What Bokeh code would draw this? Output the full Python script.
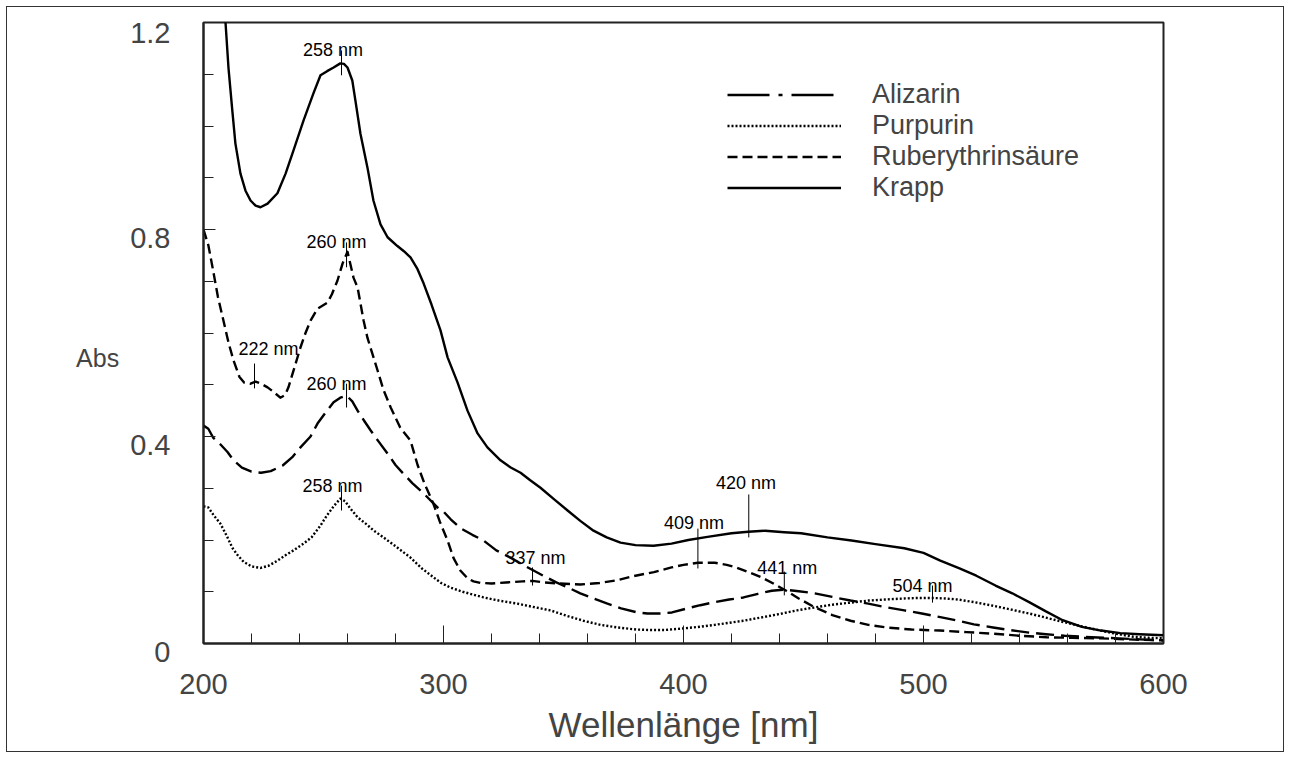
from bokeh.plotting import figure
from bokeh.models import FixedTicker, Legend, LegendItem, Range1d, ColumnDataSource
from bokeh.embed import file_html
from bokeh.resources import INLINE
from bokeh.core.properties import value

FONT = "Liberation Sans"

# ---------------- data ----------------
krapp_wl = [205, 209.2, 210.4, 212, 213.3, 215.4, 217.5, 219.6, 221.7, 223.75, 226.7, 230.8, 234.2, 237.5,
            241.7, 245.8, 248.75, 251.5, 254.2, 257, 258.5, 260, 262, 263.3, 265.4, 268.3, 270.8, 273.75,
            276.7, 280.8, 283.5, 286.25, 289, 291.7, 295, 298.75, 301.7, 305.8, 310, 314.2, 318.3, 323.75,
            328, 332.1, 336, 340.4, 346, 351.7, 357, 362.5, 368, 373.75, 380, 387.5, 395, 402, 410, 420,
            427, 434, 442, 449, 460, 470, 480, 492, 500, 507, 515, 522, 530, 537, 544, 551, 558, 566, 574,
            582, 590, 600]
krapp_abs = [1.40, 1.198, 1.113, 1.03, 0.966, 0.908, 0.875, 0.856, 0.846, 0.843, 0.850, 0.870, 0.908, 0.953,
             1.011, 1.063, 1.098, 1.106, 1.113, 1.121, 1.120, 1.113, 1.088, 1.049, 0.985, 0.920, 0.856, 0.810,
             0.785, 0.768, 0.758, 0.746, 0.725, 0.696, 0.655, 0.605, 0.553, 0.505, 0.450, 0.406, 0.379, 0.354,
             0.340, 0.330, 0.316, 0.301, 0.279, 0.257, 0.237, 0.218, 0.205, 0.195, 0.190, 0.189, 0.193, 0.200, 0.206, 0.213,
             0.216, 0.218, 0.215, 0.213, 0.205, 0.199, 0.192, 0.184, 0.175, 0.160, 0.145, 0.131, 0.112, 0.097, 0.080, 0.062, 0.045, 0.032, 0.025,
             0.020, 0.018, 0.016]

rub_wl = [200, 202, 204, 206, 208.3, 210.5, 212.5, 215, 217, 219.6, 221.7, 224, 226.7, 229.5, 232, 234,
          235.4, 238, 240.4, 242.5, 244.6, 247.5, 251.7, 253.5, 255.8, 258, 260, 262.5, 264.2, 266.7,
          268.3, 272.5, 275, 278, 282, 286.25, 289.2, 292, 295.8, 298.5, 301.7, 304.2, 307, 310, 312.5,
          315.4, 320, 326, 333, 337, 342, 348, 357, 365, 372, 380, 387.7, 395, 400, 406, 413, 418, 422,
          427, 432.4, 437, 442.8, 448, 454.7, 462, 469.6, 477, 484.5, 495, 506.8, 518, 529, 540, 551.3,
          562, 573.75, 585, 600]
rub_abs = [0.80, 0.77, 0.721, 0.67, 0.624, 0.58, 0.547, 0.515, 0.504, 0.502, 0.506, 0.502, 0.495, 0.485, 0.475, 0.48,
           0.495, 0.535, 0.572, 0.60, 0.624, 0.647, 0.659, 0.675, 0.701, 0.735, 0.757, 0.707, 0.688, 0.624,
           0.591, 0.528, 0.49, 0.456, 0.417, 0.392, 0.345, 0.31, 0.27, 0.235, 0.199, 0.165, 0.141, 0.126, 0.120,
           0.117, 0.116, 0.118, 0.120, 0.121, 0.118, 0.116, 0.114, 0.117, 0.122, 0.131, 0.138, 0.147, 0.152, 0.156, 0.156, 0.152, 0.147,
           0.138, 0.128, 0.117, 0.102, 0.087, 0.070, 0.055, 0.044, 0.036, 0.031, 0.027, 0.025, 0.022, 0.019, 0.015, 0.012,
           0.011, 0.010, 0.008, 0.006]

ali_wl = [200, 202, 204, 207, 210, 212.5, 216, 220, 224, 228, 233, 237, 240.4, 244.6, 247.5, 251, 254.2, 257,
          259.6, 262, 264.2, 267, 269.6, 273, 276.7, 280, 283.3, 287, 291.7, 297.5, 300, 303, 307, 312,
          316.7, 322, 327.9, 332, 337.5, 342, 347, 352, 357, 363, 368.3, 374, 380.8, 385, 390.4, 395.2,
          401.7, 407, 413, 419, 425, 431, 436.8, 442, 448, 454.7, 462, 469.6, 477, 484.5, 492, 499.3, 507,
          514.3, 521, 529, 536, 544, 551, 558.75, 570, 581.2, 590, 600]
ali_abs = [0.421, 0.415, 0.398, 0.385, 0.37, 0.354, 0.34, 0.332, 0.330, 0.333, 0.344, 0.36, 0.379, 0.40, 0.425, 0.447, 0.466, 0.475,
           0.479, 0.468, 0.450, 0.43, 0.412, 0.39, 0.367, 0.345, 0.328, 0.31, 0.29, 0.263, 0.255, 0.24, 0.223, 0.21,
           0.199, 0.18, 0.166, 0.155, 0.141, 0.13, 0.118, 0.108, 0.097, 0.086, 0.077, 0.068, 0.060, 0.058, 0.058, 0.060,
           0.068, 0.074, 0.080, 0.085, 0.089, 0.096, 0.102, 0.104, 0.101, 0.097, 0.090, 0.083, 0.077, 0.070, 0.064, 0.058, 0.051,
           0.044, 0.037, 0.031, 0.026, 0.021, 0.018, 0.015, 0.012, 0.010, 0.008, 0.006]

pur_wl = [200, 202, 204.2, 207, 210, 212, 214, 216.7, 220, 223.75, 227, 230.8, 234, 237.5, 241.7, 245, 248.75,
          251.5, 254.2, 257, 259, 261, 264.2, 268, 271, 275, 280, 286.25, 291, 295.8, 299, 302.9, 308, 316.7,
          323, 330.8, 337, 344.6, 351, 358.3, 365.4, 372.5, 380.3, 386.25, 392, 399.6, 406, 413, 419, 425,
          432, 440, 447.25, 455, 462, 469.6, 477, 484, 491.9, 498, 503.75, 509, 514.3, 521, 529, 536, 544,
          551, 558.75, 566, 573.75, 580, 587.5, 594, 600]
pur_abs = [0.265, 0.263, 0.248, 0.232, 0.205, 0.185, 0.172, 0.158, 0.149, 0.146, 0.150, 0.160, 0.170, 0.180, 0.193, 0.205, 0.228,
           0.248, 0.265, 0.280, 0.275, 0.262, 0.244, 0.230, 0.218, 0.205, 0.188, 0.166, 0.145, 0.128, 0.117, 0.108, 0.100, 0.089,
           0.083, 0.077, 0.071, 0.064, 0.054, 0.044, 0.036, 0.031, 0.027, 0.026, 0.026, 0.029, 0.032, 0.036, 0.040, 0.044,
           0.050, 0.057, 0.064, 0.070, 0.075, 0.079, 0.083, 0.085, 0.087, 0.088, 0.088, 0.087, 0.085, 0.080, 0.073, 0.066, 0.058,
           0.050, 0.041, 0.033, 0.025, 0.019, 0.013, 0.011, 0.010]

# peak annotations: label text, label position, marker line
peak_text = ["258 nm", "260 nm", "222 nm", "260 nm", "258 nm", "337 nm", "409 nm", "420 nm", "441 nm", "504 nm"]
peak_text_x = [254.0, 255.4, 227.1, 255.4, 253.75, 338.3, 404.4, 426.0, 443.2, 499.6]
peak_text_y = [1.146, 0.775, 0.570, 0.502, 0.305, 0.166, 0.232, 0.311, 0.145, 0.112]
peak_x = [257.5, 259.6, 221.25, 259.6, 257.5, 337.1, 406.0, 427.2, 442.0, 503.75]
peak_y0 = [1.098, 0.727, 0.493, 0.456, 0.257, 0.112, 0.145, 0.205, 0.093, 0.079]
peak_y1 = [1.146, 0.775, 0.541, 0.502, 0.305, 0.147, 0.222, 0.288, 0.139, 0.112]

y_major = [0, 0.4, 0.8, 1.2]
y_major_labels = ["0", "0.4", "0.8", "1.2"]
y_minor = [0.1, 0.2, 0.3, 0.5, 0.6, 0.7, 0.9, 1.0, 1.1]
x_major = [200, 300, 400, 500, 600]

# ---------------- figure ----------------
p = figure(frame_width=960, frame_height=621,
           min_border_left=203, min_border_right=127, min_border_top=22, min_border_bottom=115,
           x_range=Range1d(200, 600), y_range=Range1d(0, 1.2),
           output_backend="svg", toolbar_location=None)
p.background_fill_color = "white"
p.border_fill_alpha = 0
p.outline_line_color = "#222222"
p.outline_line_width = 2
p.xgrid.visible = False
p.ygrid.visible = False
# thin outer frame around the whole picture (drawn by CSS, behind the transparent border area)
p.styles = {"background-color": "white", "outline": "1px solid #333333", "outline-offset": "-7px"}

lw = 2.4
r_ali = p.line(ali_wl, ali_abs, line_color="black", line_width=lw, line_dash="18 7", line_join="round")
r_pur = p.line(pur_wl, pur_abs, line_color="black", line_width=lw, line_dash="2 2", line_join="round")
r_rub = p.line(rub_wl, rub_abs, line_color="black", line_width=lw, line_dash="10 5", line_join="round")
r_kra = p.line(krapp_wl, krapp_abs, line_color="black", line_width=lw, line_join="round")
# legend key for Alizarin (dash-dot); a one-point line draws nothing in the plot itself
r_ali_key = p.line(ali_wl[:1], ali_abs[:1], line_color="black", line_width=lw, line_dash="42 9 4 9")

# peak markers and labels
p.segment(x0=peak_x, y0=peak_y0, x1=peak_x, y1=peak_y1, line_color="black", line_width=1)
src = ColumnDataSource(dict(x=peak_text_x, y=peak_text_y, t=peak_text))
p.text(x="x", y="y", text="t", source=src, text_font=value(FONT), text_font_size="18px",
       text_align="center", text_baseline="alphabetic", text_color="black")

# axes
xa = p.xaxis[0]
xa.ticker = FixedTicker(ticks=x_major, minor_ticks=list(range(200, 601, 20)))
xa.axis_label = "Wellenlänge [nm]"
xa.axis_label_text_font = FONT
xa.axis_label_text_font_style = "normal"
xa.axis_label_text_font_size = "35px"
xa.axis_label_standoff = 8
xa.major_label_text_font = FONT
xa.major_label_text_font_size = "29px"
xa.major_label_standoff = 30
xa.major_tick_in = 18
xa.major_tick_out = 0
xa.minor_tick_in = 10
xa.minor_tick_out = 0
xa.axis_line_width = 2
xa.axis_line_color = "#222222"
xa.major_tick_line_color = "#222222"
xa.minor_tick_line_color = "#222222"

ya = p.yaxis[0]
ya.ticker = FixedTicker(ticks=y_major, minor_ticks=y_minor)
# leading empty line pushes each label a little below its tick, as in the reference
ya.major_label_overrides = {v: "\n" + t for v, t in zip(y_major, y_major_labels)}
ya.major_label_text_line_height = 0.5
ya.major_label_text_font = FONT
ya.major_label_text_font_size = "29px"
ya.major_label_standoff = 33
ya.major_tick_in = 12
ya.major_tick_out = 0
ya.minor_tick_in = 10
ya.minor_tick_out = 0
ya.axis_line_width = 2
ya.axis_line_color = "#222222"
ya.major_tick_line_color = "#222222"
ya.minor_tick_line_color = "#222222"
ya.axis_label = "\nAbs"
ya.axis_label_orientation = "horizontal"
ya.axis_label_text_line_height = 1.75
ya.axis_label_text_font = FONT
ya.axis_label_text_font_style = "normal"
ya.axis_label_text_font_size = "25px"
ya.axis_label_standoff = 8

legend = Legend(items=[LegendItem(label="Alizarin", renderers=[r_ali_key]),
                       LegendItem(label="Purpurin", renderers=[r_pur]),
                       LegendItem(label="Ruberythrinsäure", renderers=[r_rub]),
                       LegendItem(label="Krapp", renderers=[r_kra])],
                location=(524, 440), orientation="vertical")
legend.label_text_font = FONT
legend.label_text_font_size = "27px"
legend.glyph_width = 114
legend.glyph_height = 31
legend.label_height = 31
legend.label_standoff = 31
legend.spacing = 0
legend.padding = 0
legend.margin = 0
legend.border_line_alpha = 0
legend.background_fill_alpha = 0
p.add_layout(legend)

open("out.html", "w").write(file_html(p, INLINE))
